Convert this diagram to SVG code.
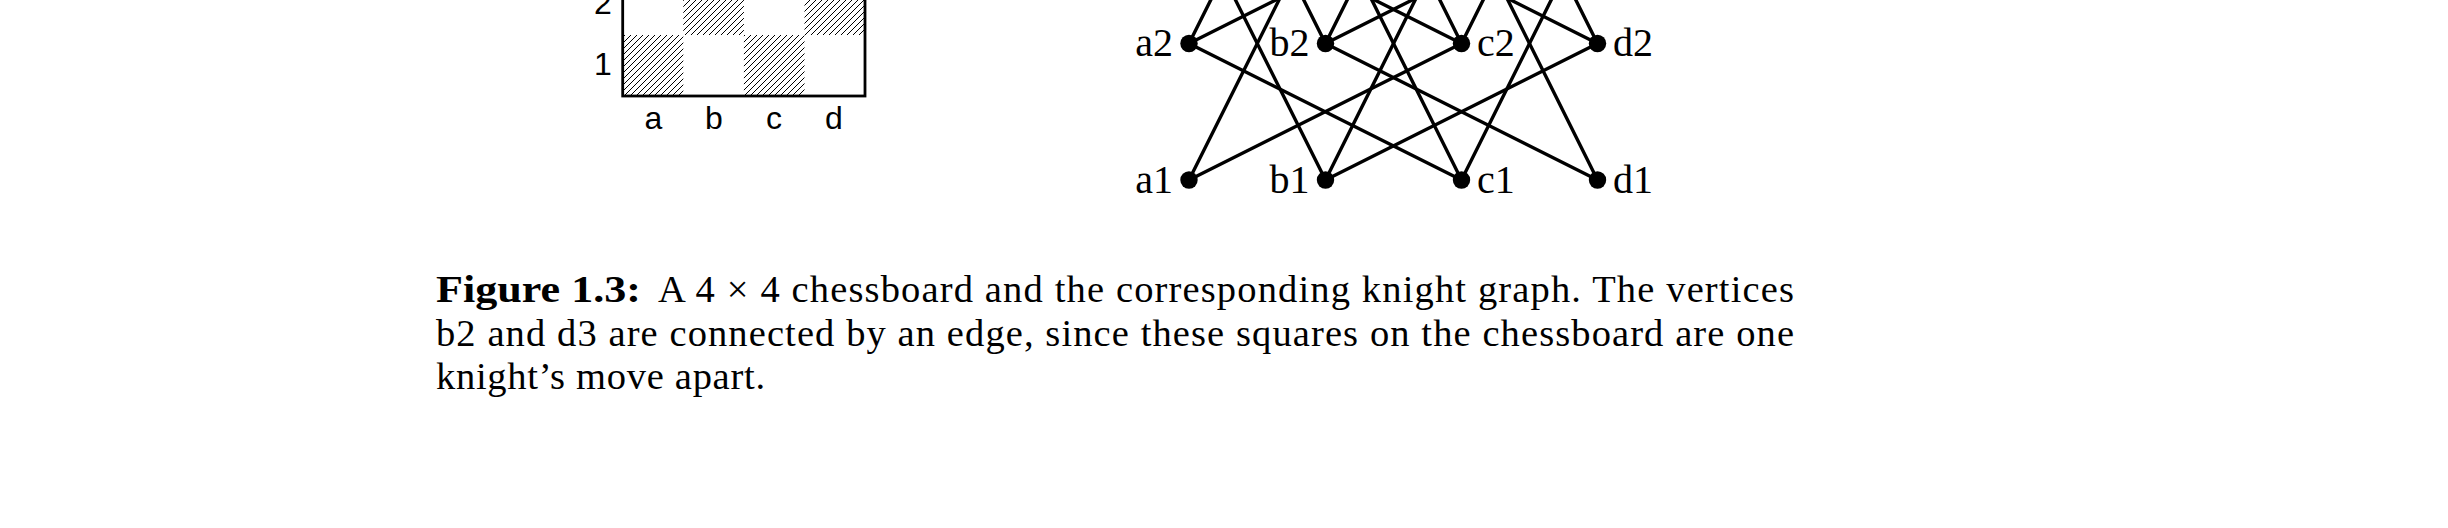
<svg xmlns="http://www.w3.org/2000/svg" width="2448" height="528" viewBox="0 0 2448 528">
<style>
.edge{stroke:#000;stroke-width:3.4;fill:none;stroke-linecap:round}
.dot{fill:#000}
.lbl{font-family:"Liberation Serif","Times New Roman",serif;font-size:40px;fill:#000}
.sans{font-family:"Liberation Sans",Arial,sans-serif;font-size:32px;fill:#000}
.cap{font-family:"Liberation Serif","Times New Roman",serif;font-size:38.5px;fill:#000}
.hatch{fill:url(#nel);stroke:none}
</style>
<defs>
<pattern id="nel" patternUnits="userSpaceOnUse" width="6" height="6">
<path d="M-1,1 L1,-1 M0,6 L6,0 M5,7 L7,5" stroke="#000" stroke-width="1"/>
</pattern>
</defs>
<rect width="2448" height="528" fill="#fff"/>
<g id="board">
<rect class="hatch" x="622.7" y="35" width="60.6" height="61"/>
<rect class="hatch" x="743.9" y="35" width="60.6" height="61"/>
<rect class="hatch" x="683.3" y="-26" width="60.6" height="61"/>
<rect class="hatch" x="804.5" y="-26" width="60.6" height="61"/>
<rect x="622.7" y="-148" width="242.3" height="244" fill="none" stroke="#000" stroke-width="2.8"/>
<text class="sans" x="603" y="14" text-anchor="middle">2</text>
<text class="sans" x="603" y="75" text-anchor="middle">1</text>
<text class="sans" x="653.5" y="129" text-anchor="middle">a</text>
<text class="sans" x="714" y="129" text-anchor="middle">b</text>
<text class="sans" x="774" y="129" text-anchor="middle">c</text>
<text class="sans" x="834" y="129" text-anchor="middle">d</text>
</g>
<g id="edges">
<line class="edge" x1="1189" y1="180" x2="1461.5" y2="43.5"/>
<line class="edge" x1="1325.5" y1="180" x2="1597.5" y2="43.5"/>
<line class="edge" x1="1461.5" y1="180" x2="1189" y2="43.5"/>
<line class="edge" x1="1597.5" y1="180" x2="1325.5" y2="43.5"/>
<line class="edge" x1="1189" y1="180" x2="1325.5" y2="-93"/>
<line class="edge" x1="1325.5" y1="180" x2="1189" y2="-93"/>
<line class="edge" x1="1325.5" y1="180" x2="1461.5" y2="-93"/>
<line class="edge" x1="1461.5" y1="180" x2="1325.5" y2="-93"/>
<line class="edge" x1="1461.5" y1="180" x2="1597.5" y2="-93"/>
<line class="edge" x1="1597.5" y1="180" x2="1461.5" y2="-93"/>
<line class="edge" x1="1189" y1="43.5" x2="1461.5" y2="-93"/>
<line class="edge" x1="1325.5" y1="43.5" x2="1597.5" y2="-93"/>
<line class="edge" x1="1461.5" y1="43.5" x2="1189" y2="-93"/>
<line class="edge" x1="1597.5" y1="43.5" x2="1325.5" y2="-93"/>
<line class="edge" x1="1189" y1="43.5" x2="1325.5" y2="-229.5"/>
<line class="edge" x1="1325.5" y1="43.5" x2="1189" y2="-229.5"/>
<line class="edge" x1="1325.5" y1="43.5" x2="1461.5" y2="-229.5"/>
<line class="edge" x1="1461.5" y1="43.5" x2="1325.5" y2="-229.5"/>
<line class="edge" x1="1461.5" y1="43.5" x2="1597.5" y2="-229.5"/>
<line class="edge" x1="1597.5" y1="43.5" x2="1461.5" y2="-229.5"/>
</g>
<g id="node-a2"><circle class="dot" cx="1189" cy="43.5" r="8.7"/><text class="lbl" x="1173" y="56" text-anchor="end">a2</text></g>
<g id="node-b2"><circle class="dot" cx="1325.5" cy="43.5" r="8.7"/><text class="lbl" x="1309.5" y="56" text-anchor="end">b2</text></g>
<g id="node-c2"><circle class="dot" cx="1461.5" cy="43.5" r="8.7"/><text class="lbl" x="1477" y="56">c2</text></g>
<g id="node-d2"><circle class="dot" cx="1597.5" cy="43.5" r="8.7"/><text class="lbl" x="1613" y="56">d2</text></g>
<g id="node-a1"><circle class="dot" cx="1189" cy="180" r="8.7"/><text class="lbl" x="1173" y="192.5" text-anchor="end">a1</text></g>
<g id="node-b1"><circle class="dot" cx="1325.5" cy="180" r="8.7"/><text class="lbl" x="1309.5" y="192.5" text-anchor="end">b1</text></g>
<g id="node-c1"><circle class="dot" cx="1461.5" cy="180" r="8.7"/><text class="lbl" x="1477" y="192.5">c1</text></g>
<g id="node-d1"><circle class="dot" cx="1597.5" cy="180" r="8.7"/><text class="lbl" x="1613" y="192.5">d1</text></g>
<g id="caption">
<text class="cap" x="436" y="302" font-weight="bold" textLength="205" lengthAdjust="spacingAndGlyphs">Figure 1.3:</text>
<text class="cap" x="658" y="302" textLength="1136" lengthAdjust="spacing">A 4 × 4 chessboard and the corresponding knight graph. The vertices</text>
<text class="cap" x="436" y="345.5" textLength="1358" lengthAdjust="spacing">b2 and d3 are connected by an edge, since these squares on the chessboard are one</text>
<text class="cap" x="436" y="389" textLength="329" lengthAdjust="spacing">knight’s move apart.</text>
</g>
</svg>
